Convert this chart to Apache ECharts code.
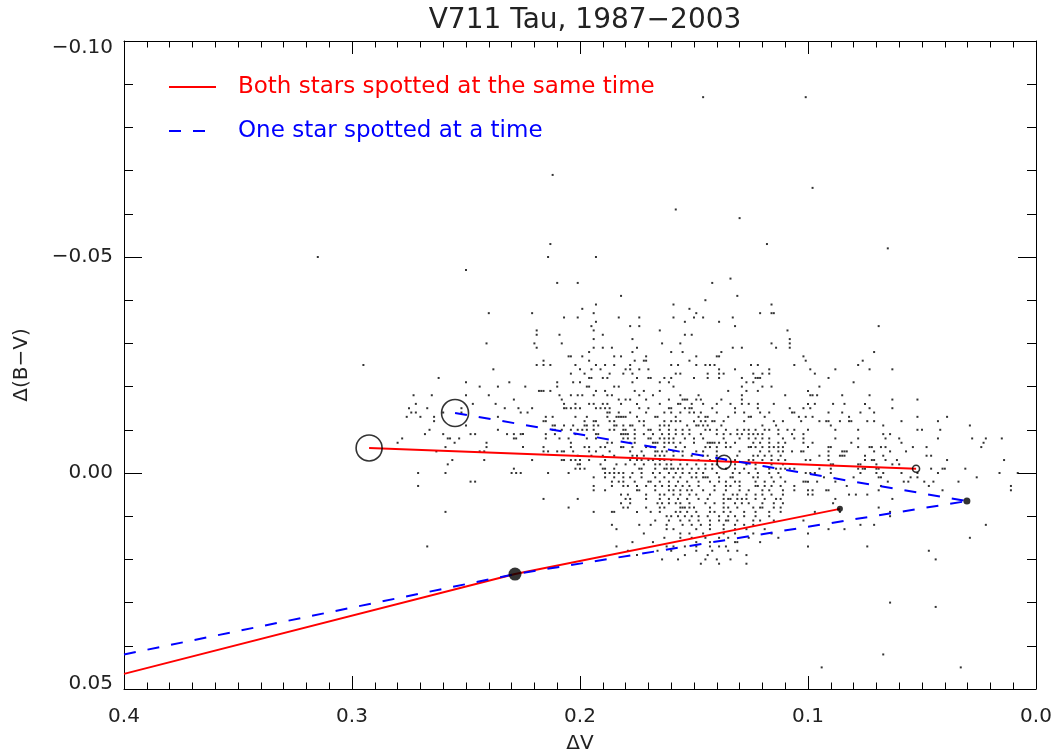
<!DOCTYPE html>
<html>
<head>
<meta charset="utf-8">
<script src="https://cdn.jsdelivr.net/npm/echarts@6/dist/echarts.min.js"></script>
<style>
  html, body { margin: 0; padding: 0; background: #fff; }
  #chart { width: 1058px; height: 752px; }
</style>
</head>
<body>
<div id="chart"></div>
<script>
// photometry cloud, in mmag: one row per Δ(B−V) value, listing the ΔV values on that row
const cloudBV = [
  -87, -69, -66, -61, -59, -53, -52, -50, -47, -45, -44, -41, -40, -39, -38, -37, -36, -35, -34, -33,
  -32, -31, -30, -29, -28, -27, -26, -25, -24, -23, -22, -21, -20, -19, -18, -17, -16, -15, -14, -13,
  -12, -11, -10, -9, -8, -7, -6, -5, -4, -3, -2, -1, 0, 1, 2, 3, 4, 5, 6, 7,
  8, 9, 10, 11, 12, 13, 14, 15, 16, 17, 18, 19, 20, 21, 30, 31, 42, 45
];
const cloudV = [
  [146, 101], [212], [98], [158], [130], [213, 118], [65], [315, 214, 193], [250], [134],
  [210, 201, 142], [182, 131], [145], [193, 159, 116], [199, 152],
  [240, 221, 194, 149, 121, 116, 115],
  [207, 201, 183, 174, 159, 150, 146, 133],
  [193, 154, 139],
  [195, 178, 174, 132, 69],
  [219, 194, 165, 109],
  [219, 209, 190, 154, 151],
  [194, 177, 108],
  [241, 220, 208, 164, 156, 116, 108],
  [219, 194, 190, 186, 175, 133, 129, 114, 108],
  [196, 177, 160, 155, 138, 71],
  [205, 204, 199, 185, 182, 171, 149, 140, 139, 102],
  [216, 196, 176, 172, 171, 152, 101, 76],
  [295, 219, 216, 213, 202, 193, 189, 185, 178, 160, 157, 149, 145, 143, 141, 125, 122, 106, 78],
  [238, 200, 195, 191, 180, 178, 174, 170, 139, 132, 117, 99, 88, 73, 63],
  [204, 198, 187, 181, 177, 158, 156, 144, 139, 137, 124, 120, 117, 97],
  [262, 196, 195, 190, 188, 175, 170, 169, 163, 160, 150, 144, 139, 129, 123, 122, 121, 91],
  [250, 231, 210, 203, 200, 177, 165, 161, 127, 124, 80],
  [244, 236, 224, 210, 197, 196, 185, 183, 159, 129, 120, 116, 95],
  [218, 217, 216, 213, 193, 189, 176, 172, 165, 135, 127, 122, 100],
  [273, 265, 250, 240, 209, 204, 201, 199, 194, 188, 186, 174, 168, 156, 148, 129, 110, 99, 98, 96, 85, 73],
  [229, 208, 183, 180, 178, 171, 161, 155, 154, 153, 149, 147, 138, 129, 63, 52],
  [272, 247, 237, 207, 202, 196, 194, 190, 188, 182, 175, 165, 157, 156, 151, 146, 140, 134, 129, 126, 122, 115, 100, 97, 89, 84, 75],
  [275, 267, 252, 233, 227, 221, 207, 206, 204, 202, 200, 193, 191, 189, 187, 174, 170, 161, 160, 154, 152, 151, 142, 132, 122, 108, 102, 99, 73, 63],
  [274, 272, 260, 252, 226, 223, 188, 187, 183, 178, 171, 163, 160, 156, 152, 150, 147, 140, 132, 128, 121, 117, 107, 106, 91, 85, 77, 71],
  [276, 270, 264, 236, 215, 212, 202, 197, 188, 184, 183, 182, 181, 180, 175, 167, 166, 158, 148, 145, 144, 135, 126, 125, 119, 104, 101, 98, 82, 52, 39],
  [264, 216, 215, 198, 194, 193, 187, 185, 174, 172, 163, 160, 158, 156, 150, 147, 145, 142, 141, 137, 128, 115, 111, 103, 95, 92, 91, 86, 82, 81, 74, 71, 59, 43],
  [250, 212, 211, 207, 203, 198, 197, 194, 192, 185, 184, 181, 178, 177, 172, 165, 163, 161, 153, 149, 148, 146, 144, 138, 120, 114, 90, 67, 29],
  [266, 236, 212, 211, 208, 204, 201, 199, 197, 194, 187, 185, 181, 180, 176, 170, 169, 165, 161, 158, 155, 152, 145, 143, 140, 136, 131, 128, 126, 123, 119, 117, 113, 109, 106, 100, 88, 78, 52, 50, 42],
  [268, 260, 248, 246, 232, 229, 226, 225, 215, 211, 202, 193, 192, 182, 181, 180, 179, 176, 172, 168, 164, 161, 158, 155, 152, 147, 140, 137, 134, 131, 129, 126, 124, 122, 120, 113, 107, 102, 67, 64],
  [278, 258, 257, 253, 229, 228, 215, 209, 205, 197, 193, 181, 179, 176, 170, 169, 165, 163, 161, 159, 154, 150, 146, 137, 130, 126, 123, 120, 117, 111, 106, 102, 88, 78, 66, 60, 43, 28, 22, 15],
  [280, 255, 241, 204, 188, 186, 178, 176, 168, 167, 166, 163, 161, 159, 156, 150, 144, 143, 142, 141, 139, 136, 132, 124, 121, 117, 113, 110, 102, 98, 81, 59, 23],
  [259, 241, 225, 216, 204, 198, 196, 191, 189, 182, 181, 177, 171, 169, 167, 163, 158, 154, 145, 143, 140, 136, 134, 126, 125, 123, 120, 117, 115, 113, 111, 100, 91, 90, 78, 73, 72, 68, 66, 54, 48, 24],
  [263, 244, 242, 216, 214, 210, 208, 207, 203, 196, 193, 187, 178, 173, 167, 166, 164, 162, 159, 155, 149, 146, 140, 130, 121, 117, 113, 111, 107, 103, 102, 91, 85, 84, 83, 71, 64, 57],
  [201, 195, 190, 185, 177, 175, 172, 167, 165, 163, 159, 155, 151, 146, 144, 140, 131, 124, 122, 119, 116, 112, 95, 91, 86, 85, 84, 75, 67, 48, 46],
  [256, 242, 221, 208, 207, 204, 202, 200, 196, 189, 178, 175, 173, 170, 168, 165, 163, 160, 156, 148, 143, 140, 136, 132, 126, 124, 120, 116, 113, 110, 101, 99, 91, 75, 72, 71, 66, 61, 39, 14],
  [258, 201, 200, 191, 184, 180, 176, 172, 167, 165, 162, 160, 156, 153, 149, 145, 142, 140, 132, 127, 123, 116, 111, 90, 89, 78, 77, 70, 63, 60],
  [229, 202, 200, 198, 190, 189, 185, 174, 173, 167, 163, 162, 160, 159, 157, 155, 151, 148, 145, 142, 136, 132, 128, 123, 117, 114, 112, 110, 108, 106, 95, 90, 78, 76, 75, 70, 69, 46, 41, 40, 31],
  [271, 259, 230, 228, 226, 214, 205, 189, 187, 185, 183, 181, 177, 173, 168, 165, 161, 158, 155, 152, 149, 146, 140, 133, 130, 126, 122, 117, 113, 101, 99, 97, 90, 77, 70, 67, 59, 52, 43, 16, 8],
  [194, 189, 185, 181, 178, 173, 167, 163, 159, 156, 151, 149, 146, 145, 144, 139, 134, 133, 124, 122, 116, 112, 93, 80, 69, 68, 55, 52, 26],
  [248, 246, 186, 183, 181, 176, 170, 169, 165, 161, 157, 153, 148, 143, 139, 136, 132, 130, 123, 119, 115, 110, 102, 101, 100, 96, 88, 65, 58, 56, 49, 45, 34],
  [271, 194, 186, 181, 179, 175, 171, 167, 164, 161, 158, 155, 152, 148, 141, 136, 134, 130, 123, 122, 119, 116, 112, 106, 83, 68, 47, 11],
  [194, 189, 175, 174, 167, 161, 159, 156, 153, 151, 146, 141, 136, 130, 126, 120, 117, 111, 106, 100, 98, 92, 91, 69, 41, 11],
  [182, 179, 171, 165, 163, 159, 156, 152, 149, 143, 137, 133, 131, 127, 123, 120, 116, 111, 100, 98, 82, 79, 74],
  [216, 201, 180, 178, 171, 165, 161, 157, 153, 148, 144, 137, 135, 134, 131, 129, 127, 123, 119, 114, 112, 88, 63],
  [182, 178, 166, 164, 161, 158, 156, 152, 145, 141, 137, 132, 129, 126, 120, 115, 111, 89],
  [205, 181, 179, 171, 165, 163, 156, 155, 154, 152, 150, 143, 137, 135, 131, 124, 121, 120, 115, 112, 69],
  [259, 194, 186, 185, 175, 169, 165, 158, 156, 153, 149, 143, 141, 137, 134, 128, 123, 117, 112, 97, 86, 64],
  [162, 160, 157, 154, 151, 148, 144, 139, 135, 132, 128, 123, 117, 64],
  [167, 161, 156, 152, 148, 143, 139, 136, 135, 131, 124, 121, 115, 102],
  [186, 174, 169, 162, 155, 151, 147, 143, 137, 132, 128, 124, 77, 71, 22],
  [184, 162, 159, 149, 143, 137, 132, 127, 119, 91, 84],
  [172, 156, 152, 146, 137, 132, 124, 116, 100],
  [163, 156, 151, 145, 139, 135, 126, 113, 29],
  [177, 168, 149, 143, 132, 131, 121],
  [267, 184, 162, 159, 154, 149, 143, 139, 136, 100, 74],
  [179, 166, 160, 149, 142, 135, 131, 47],
  [175, 154, 144, 127],
  [164, 157, 145, 140, 134, 44],
  [147, 139, 127],
  [64], [44], [67], [94, 33]
];

// model tracks [ΔV, Δ(B−V)] in mag
const bothSpottedA = [[0.2925, -0.0058], [0.0526, -0.0010]];
const bothSpottedB = [[0.400, 0.0465], [0.2285, 0.0234], [0.0860, 0.0083]];
const oneSpottedA = [[0.2548, -0.0139], [0.0303, 0.0065]];
const oneSpottedB = [[0.400, 0.0420], [0.2285, 0.0234], [0.0303, 0.0065]];

// marked epochs
const openSpots = [[0.2925, -0.0058], [0.2548, -0.0139], [0.1368, -0.0025], [0.0526, -0.0010]];
const filledSpots = [[0.2285, 0.0234], [0.0860, 0.0083], [0.0303, 0.0065]];

const xTicks = [0, 0.1, 0.2, 0.3, 0.4];
const yTicks = [-0.10, -0.05, 0.00, 0.05];

const openSizes = [26, 27, 14, 7];
const filledSizes = [13, 6, 7];

const FONT = 'DejaVu Sans';
const INK = '#222';
const BOTH = 'Both stars spotted at the same time';
const ONE = 'One star spotted at a time';

const cloud = [];
cloudV.forEach((row, i) => {
  row.forEach((v) => cloud.push([v / 1000, cloudBV[i] / 1000]));
});

const minus = (s) => s.replace('-', '\u2212');
const labelText = { color: INK, fontFamily: FONT, fontSize: 20 };

function xAxisAt(position) {
  return {
    type: 'value',
    position,
    min: xTicks[0],
    max: xTicks[xTicks.length - 1],
    interval: 0.1,
    inverse: true,
    axisLine: { onZero: false, lineStyle: { color: '#000', width: 1 } },
    axisTick: { inside: true, length: 13, lineStyle: { color: '#000' } },
    minorTick: { show: true, splitNumber: 10, length: 6.5, lineStyle: { color: '#000' } },
    splitLine: { show: false },
    axisLabel: Object.assign({
      show: position === 'bottom',
      margin: 18,
      formatter: (v) => v.toFixed(1),
    }, labelText),
  };
}

function yAxisAt(position) {
  return {
    type: 'value',
    position,
    min: yTicks[0],
    max: yTicks[yTicks.length - 1],
    interval: 0.05,
    inverse: true,
    axisLine: { onZero: false, lineStyle: { color: '#000', width: 1 } },
    axisTick: { inside: true, length: 18, lineStyle: { color: '#000' } },
    minorTick: { show: true, splitNumber: 5, length: 9, lineStyle: { color: '#000' } },
    splitLine: { show: false },
    axisLabel: Object.assign({
      show: position === 'left',
      margin: 11,
      formatter: (v) => {
        const s = minus((Math.abs(v) < 1e-9 ? 0 : v).toFixed(2));
        if (Math.abs(v - yTicks[0]) < 1e-9) return '{lo|' + s + '}';
        if (Math.abs(v - yTicks[yTicks.length - 1]) < 1e-9) return '{hi|' + s + '}';
        return s;
      },
      rich: {
        lo: Object.assign({ padding: [14, 0, 0, 0] }, labelText),
        hi: Object.assign({ padding: [0, 0, 10, 0] }, labelText),
      },
    }, labelText),
  };
}

const chart = echarts.init(document.getElementById('chart'), null, { renderer: 'canvas' });

const bottomX = Object.assign(xAxisAt('bottom'), {
  name: '\u0394V',
  nameLocation: 'middle',
  nameGap: 45,
  nameTextStyle: labelText,
});
const leftY = Object.assign(yAxisAt('left'), {
  name: '\u0394(B\u2212V)',
  nameLocation: 'middle',
  nameRotate: 90,
  nameGap: 92,
  nameTextStyle: labelText,
});

chart.setOption({
  animation: false,
  backgroundColor: '#fff',
  title: {
    text: 'V711 Tau, 1987\u22122003',
    left: 580,
    top: 2,
    textAlign: 'center',
    textStyle: { color: INK, fontFamily: FONT, fontSize: 28, fontWeight: 'normal' },
  },
  grid: { left: 124, right: 22, top: 41, bottom: 63, containLabel: false, outerBoundsMode: 'none' },
  xAxis: [bottomX, xAxisAt('top')],
  yAxis: [leftY, yAxisAt('right')],
  legend: {
    orient: 'vertical',
    left: 168,
    top: 75,
    padding: 0,
    itemWidth: 47,
    itemHeight: 24,
    itemGap: 20,
    selectedMode: false,
    itemStyle: { opacity: 0, borderWidth: 0 },
    textStyle: { fontFamily: FONT, fontSize: 23, lineHeight: 24, padding: [0, 0, 0, 17] },
    data: [
      { name: BOTH, textStyle: { color: '#ff0000' } },
      { name: ONE, textStyle: { color: '#0000ff' } },
    ],
  },
  series: [
    {
      type: 'scatter',
      name: 'cloud',
      data: cloud,
      symbol: 'rect',
      symbolSize: 2,
      silent: true,
      itemStyle: { color: '#000' },
      z: 1,
    },
    ...[bothSpottedA, bothSpottedB].map((d) => ({
      type: 'line',
      name: BOTH,
      data: d,
      symbol: 'none',
      lineStyle: { color: '#ff0000', width: 2 },
      itemStyle: { color: '#ff0000' },
      z: 3,
    })),
    ...[oneSpottedA, oneSpottedB].map((d) => ({
      type: 'line',
      name: ONE,
      data: d,
      symbol: 'none',
      lineStyle: { color: '#0000ff', width: 2, type: [12, 12] },
      itemStyle: { color: '#0000ff' },
      z: 3,
    })),
    {
      type: 'scatter',
      name: 'open',
      data: openSpots.map((p, i) => ({ value: p, symbolSize: openSizes[i] })),
      symbol: 'circle',
      itemStyle: { color: 'rgba(0,0,0,0)', borderColor: '#000', borderWidth: 1.6 },
      z: 4,
    },
    {
      type: 'scatter',
      name: 'filled',
      data: filledSpots.map((p, i) => ({ value: p, symbolSize: filledSizes[i] })),
      symbol: 'circle',
      itemStyle: { color: '#000' },
      z: 4,
    },
  ],
});
</script>
</body>
</html>
